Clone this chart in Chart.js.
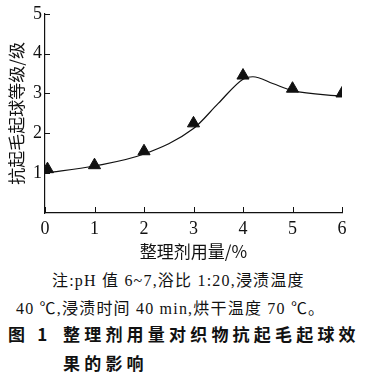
<!DOCTYPE html>
<html>
<head>
<meta charset="utf-8">
<script src="https://cdn.jsdelivr.net/npm/chart.js@4.4.1/dist/chart.umd.min.js"></script>
<style>
  body { margin: 0; background: #fff; width: 365px; height: 380px; overflow: hidden; position: relative; }
  #wrap { position: absolute; left: 0; top: 0; width: 365px; height: 262px; }
  .t { position: absolute; white-space: nowrap; color: #111; }
  .note { font: 16px "Liberation Serif", "Noto Sans CJK SC"; letter-spacing: 1.2px; }
  .cap { font: bold 17px "Noto Sans CJK SC"; letter-spacing: 4.2px; }
</style>
</head>
<body>
<div id="wrap"><canvas id="c"></canvas></div>
<div class="t note" style="left:52px;top:267px">注:pH 值 6~7,浴比 1:20,浸渍温度</div>
<div class="t note" style="left:16px;top:295px">40 ℃,浸渍时间 40 min,烘干温度 70 ℃。</div>
<div class="t cap" style="left:8px;top:321px">图 1</div>
<div class="t cap" style="left:63px;top:321px">整理剂用量对织物抗起毛起球效</div>
<div class="t cap" style="left:63px;top:350px">果的影响</div>
<script>
// measured points (triangles)
const dosage = [0.05, 1, 2, 3, 4, 5, 6];
const grade = [1.1, 1.2, 1.55, 2.25, 3.45, 3.12, 3.0];

// fitted curve
const curveX = [0, 1, 2, 3, 3.5, 4, 4.2, 4.6, 5, 6];
const curveY = [1.0, 1.18, 1.48, 2.12, 2.75, 3.36, 3.42, 3.25, 3.07, 2.93];

const xTicks = [0, 1, 2, 3, 4, 5, 6];
const yTicks = [1, 2, 3, 4, 5];

const ink = "#111";

// short tick marks pointing into the plot
const innerTicks = {
  id: "innerTicks",
  afterDraw(chart) {
    const { ctx, scales } = chart;
    const x = scales.x, y = scales.y;
    ctx.save();
    ctx.strokeStyle = ink;
    ctx.lineWidth = 1;
    xTicks.forEach(v => {
      const px = Math.round(x.getPixelForValue(v)) + 0.5;
      ctx.beginPath();
      ctx.moveTo(px, y.bottom);
      ctx.lineTo(px, y.bottom - 6);
      ctx.stroke();
    });
    yTicks.forEach(v => {
      const py = Math.round(y.getPixelForValue(v)) + 0.5;
      ctx.beginPath();
      ctx.moveTo(x.left, py);
      ctx.lineTo(x.left + 5, py);
      ctx.stroke();
    });
    ctx.restore();
  }
};

new Chart(document.getElementById("c"), {
  type: "scatter",
  data: {
    datasets: [
      {
        data: curveX.map((v, i) => ({ x: v, y: curveY[i] })),
        showLine: true,
        cubicInterpolationMode: "monotone",
        borderColor: ink,
        borderWidth: 1.2,
        pointRadius: 0
      },
      {
        data: dosage.map((v, i) => ({ x: v, y: grade[i] })),
        pointStyle: "triangle",
        pointRadius: 7,
        backgroundColor: ink,
        borderColor: ink,
        borderWidth: 1
      }
    ]
  },
  options: {
    responsive: true,
    maintainAspectRatio: false,
    animation: false,
    layout: { padding: { top: 13, right: 23, left: 6, bottom: 0 } },
    plugins: { legend: { display: false }, tooltip: { enabled: false } },
    scales: {
      x: {
        type: "linear",
        min: 0,
        max: 6,
        afterBuildTicks: s => { s.ticks = xTicks.map(v => ({ value: v })); },
        afterFit: s => { s.height = 49; },
        ticks: { color: ink, padding: 5, font: { family: "Liberation Serif", size: 18 } },
        grid: { drawOnChartArea: false, drawTicks: false },
        border: { color: ink, width: 1.2 },
        title: {
          display: true,
          text: "整理剂用量/%",
          color: ink,
          padding: { top: 0, bottom: 0 },
          font: { family: "Noto Sans CJK SC", size: 17 }
        }
      },
      y: {
        min: 0,
        max: 5,
        afterBuildTicks: s => { s.ticks = yTicks.map(v => ({ value: v })); },
        afterFit: s => { s.width = 39; },
        ticks: { color: ink, padding: 3, font: { family: "Liberation Serif", size: 18 } },
        grid: { drawOnChartArea: false, drawTicks: false },
        border: { color: ink, width: 1.2 },
        title: {
          display: true,
          text: "抗起毛起球等级/级",
          color: ink,
          padding: { top: 0, bottom: 0 },
          font: { family: "Noto Sans CJK SC", size: 17 }
        }
      }
    }
  },
  plugins: [innerTicks]
});
</script>
</body>
</html>
